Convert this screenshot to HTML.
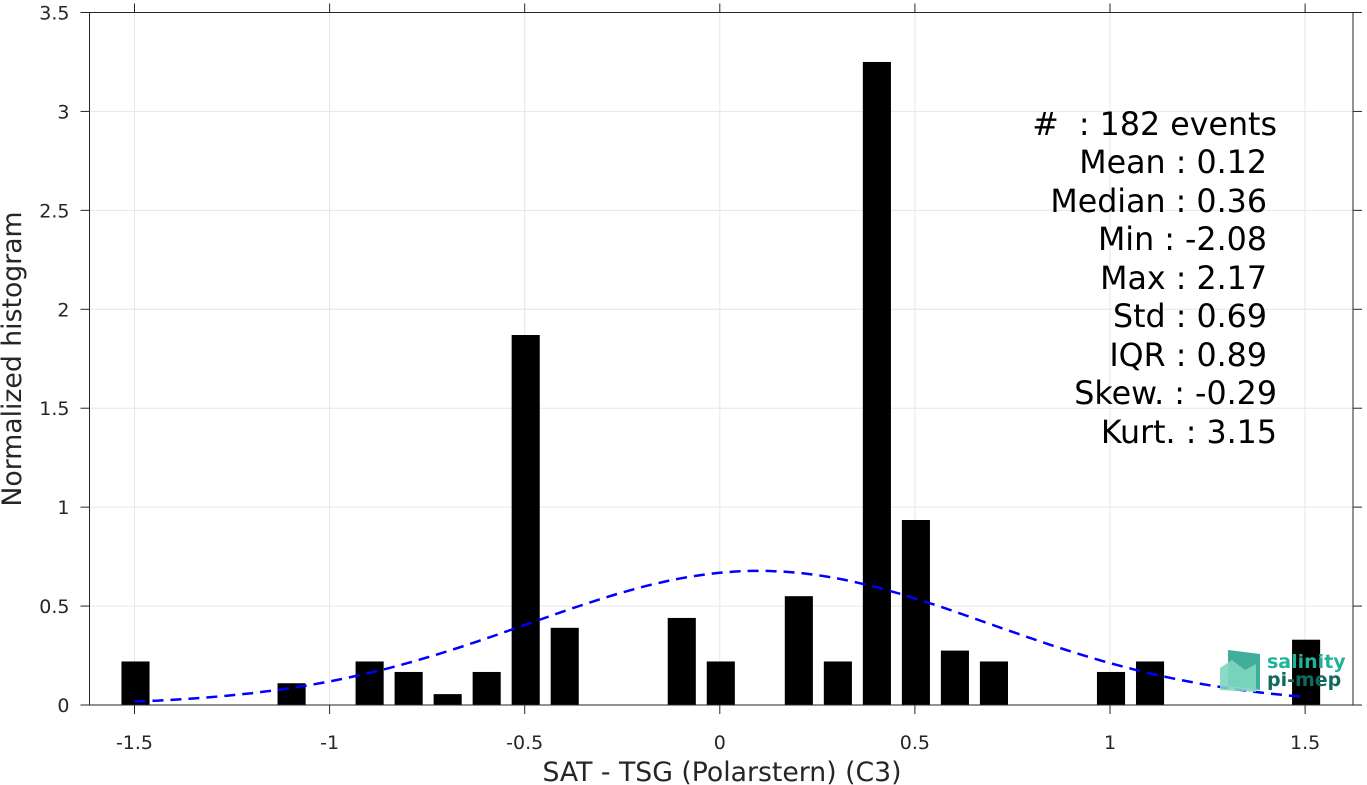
<!DOCTYPE html>
<html><head><meta charset="utf-8"><style>
body{margin:0;background:#fff;}
svg{display:block;font-family:"DejaVu Sans","Liberation Sans",sans-serif;}
text{white-space:pre;}
</style></head><body>
<svg id="chart" width="1367" height="785" xmlns="http://www.w3.org/2000/svg">
<g id="grid"></g>
<g id="bars"></g>
<path id="fit" fill="none" stroke="#0000ff" stroke-width="2.5" stroke-dasharray="11,7"/>
<g id="axes"></g>
<g>
<polygon points="1228,650 1260,654 1260,690 1228,686" fill="#1fa08a" opacity="0.85"/>
<polygon points="1220,668 1232,660 1245,670 1256,664 1256,692 1220,690" fill="#7fd6bf" opacity="0.9"/>
<text x="1267" y="668" font-size="19" font-weight="bold" fill="#20b29a">salinity</text>
<text x="1267" y="686" font-size="19" font-weight="bold" fill="#0f6a5e">pi-mep</text>
</g>
<g font-size="31.7" fill="#000" text-anchor="end">
<text x="1277" y="135">#  : 182 events</text>
<text x="1267" y="173">Mean : 0.12</text>
<text x="1267" y="212">Median : 0.36</text>
<text x="1267" y="250">Min : -2.08</text>
<text x="1267" y="289">Max : 2.17</text>
<text x="1267" y="327">Std : 0.69</text>
<text x="1267" y="366">IQR : 0.89</text>
<text x="1277" y="404">Skew. : -0.29</text>
<text x="1277" y="443">Kurt. : 3.15</text>
</g>
<text x="722" y="781" font-size="26.7" fill="#262626" text-anchor="middle">SAT - TSG (Polarstern) (C3)</text>
<text transform="translate(21,359) rotate(-90)" font-size="26.7" fill="#262626" text-anchor="middle">Normalized histogram</text>
</svg>
<script>
const binCenters=[-1.5,-1.1,-0.9,-0.8,-0.7,-0.6,-0.5,-0.4,-0.1,0,0.2,0.3,0.4,0.5,0.6,0.7,1.0,1.1,1.5];
const binValues=[0.22,0.11,0.22,0.167,0.055,0.167,1.87,0.39,0.44,0.22,0.55,0.22,3.25,0.935,0.275,0.22,0.167,0.22,0.33];
const xTicks=[-1.5,-1,-0.5,0,0.5,1,1.5];
const xTickLabels=["-1.5","-1","-0.5","0","0.5","1","1.5"];
const yTicks=[0,0.5,1,1.5,2,2.5,3,3.5];
const yTickLabels=["0","0.5","1","1.5","2","2.5","3","3.5"];
const fitMean=0.1, fitSigma=0.59, fitPeak=0.678, fitRange=[-1.5,1.5];
const L=89.5,R=1353,T=12.5,B=705;
const sx=v=>134.5+(v+1.5)*390.2;
const sy=v=>B-v*(B-T)/3.5;
const NS="http://www.w3.org/2000/svg";
function mk(tag,attrs,parent){const e=document.createElementNS(NS,tag);for(const k in attrs)e.setAttribute(k,attrs[k]);parent.appendChild(e);return e;}
const grid=document.getElementById('grid'),axes=document.getElementById('axes'),bars=document.getElementById('bars');
xTicks.forEach((t,i)=>{
 const g=mk('line',{x1:sx(t),x2:sx(t),y1:T,y2:B,stroke:'#e6e6e6','stroke-width':1},grid);
 
 
 mk('line',{x1:sx(t),x2:sx(t),y1:B,y2:B+9,stroke:'#262626','stroke-width':1},axes);
 mk('line',{x1:sx(t),x2:sx(t),y1:T,y2:T-9,stroke:'#262626','stroke-width':1},axes);
 const tx=mk('text',{x:sx(t),y:749,'font-size':19,fill:'#262626','text-anchor':'middle'},axes);
 tx.textContent=xTickLabels[i];
 
 
});
yTicks.forEach((t,i)=>{
 const g=mk('line',{x1:L,x2:R,y1:sy(t),y2:sy(t),stroke:'#e6e6e6','stroke-width':1},grid);
 
 
 mk('line',{x1:L,x2:L-9,y1:sy(t),y2:sy(t),stroke:'#262626','stroke-width':1},axes);
 mk('line',{x1:R,x2:R+9,y1:sy(t),y2:sy(t),stroke:'#262626','stroke-width':1},axes);
 const tx=mk('text',{x:L-20,y:sy(t)+7,'font-size':19,fill:'#262626','text-anchor':'end'},axes);
 tx.textContent=yTickLabels[i];
 
 
});
mk('rect',{x:L,y:T,width:R-L,height:B-T,fill:'none',stroke:'#262626','stroke-width':1},axes);
const bw=0.072*390.2;
binCenters.forEach((c,i)=>{
 const r=mk('rect',{x:sx(c)-bw/2+1,y:sy(binValues[i]),width:bw,height:B-sy(binValues[i]),fill:'#000'},bars);
 
 
});
let d='';
for(let k=0;k<=150;k++){const x=fitRange[0]+(fitRange[1]-fitRange[0])*k/150;
 const y=fitPeak*Math.exp(-Math.pow(x-fitMean,2)/(2*fitSigma*fitSigma));
 d+=(k?'L':'M')+sx(x).toFixed(1)+','+sy(y).toFixed(1);}
document.getElementById('fit').setAttribute('d',d);
</script>
</body></html>
